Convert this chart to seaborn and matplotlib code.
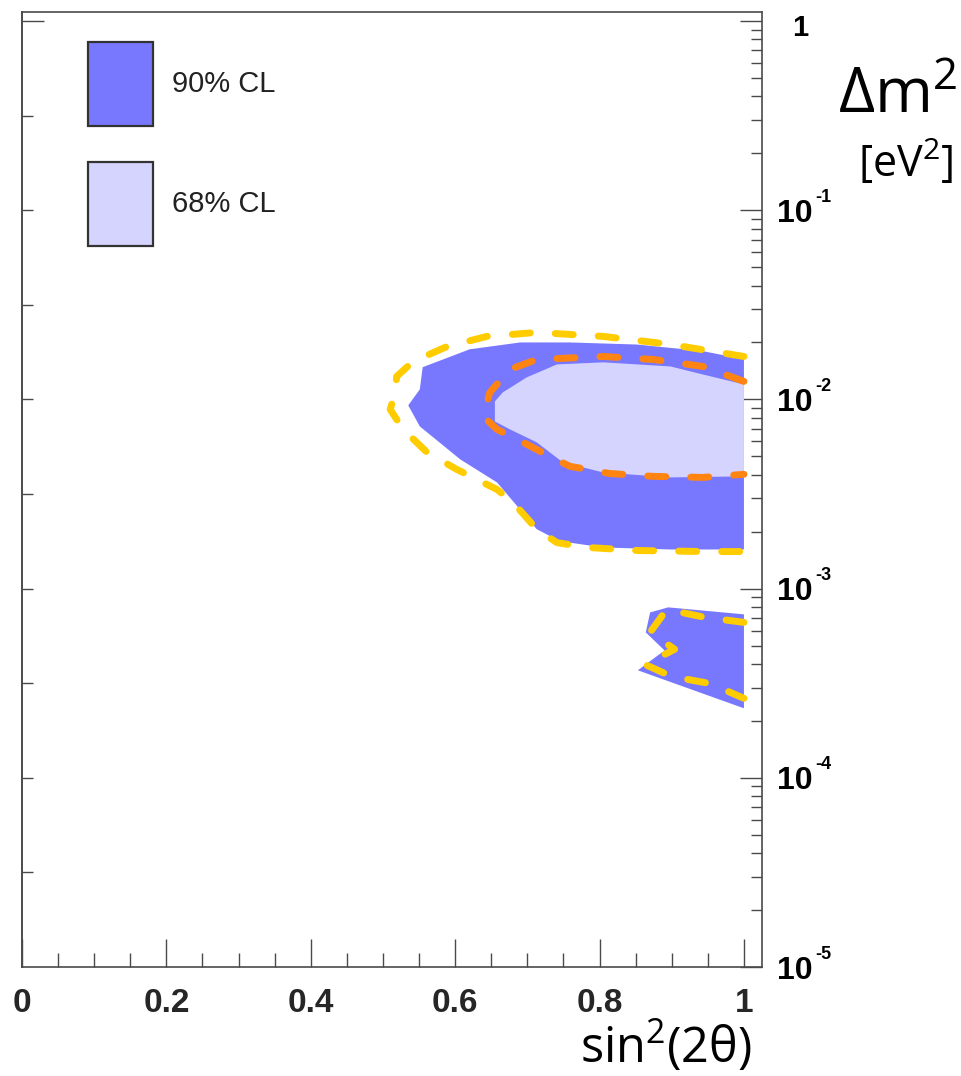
import matplotlib
matplotlib.use("Agg")
import matplotlib.pyplot as plt
import matplotlib.ticker as mticker
from matplotlib.patches import Patch
from matplotlib.transforms import offset_copy
import seaborn as sns

# ---- allowed regions: sin^2(2theta) vs delta m^2 [eV^2] ----
# 90% CL, upper island (filled)
cl90_sin2 = [1.0, 0.943, 0.852, 0.759, 0.690, 0.620, 0.555, 0.551, 0.535,
             0.551, 0.607, 0.658, 0.713, 0.745, 0.805, 0.898, 1.0]
cl90_dm2 = [0.0163, 0.0180, 0.0195, 0.0200, 0.0200, 0.0184, 0.0148, 0.0113, 0.0093,
            0.0072, 0.00482, 0.00364, 0.00206, 0.00178, 0.00165, 0.00161, 0.00161]

# 90% CL, lower island (filled)
cl90_low_sin2 = [0.870, 0.895, 1.0, 1.0, 0.853, 0.890, 0.864]
cl90_low_dm2 = [0.000748, 0.000796, 0.000731, 0.000233, 0.000370, 0.000471, 0.000587]

# 68% CL (filled)
cl68_sin2 = [1.0, 0.943, 0.898, 0.805, 0.741, 0.699, 0.666, 0.655, 0.655,
             0.676, 0.713, 0.749, 0.805, 0.898, 1.0]
cl68_dm2 = [0.0120, 0.01355, 0.01494, 0.01570, 0.01531, 0.01307, 0.01089, 0.00976, 0.00765,
            0.00694, 0.00593, 0.00465, 0.00411, 0.00387, 0.00392]

# 68% CL contour (dashed, orange)
c68_line_sin2 = [1.0, 0.943, 0.874, 0.805, 0.713, 0.676, 0.648, 0.639, 0.658,
                 0.694, 0.731, 0.759, 0.814, 0.874, 0.943, 1.0]
c68_line_dm2 = [0.01245, 0.01494, 0.01626, 0.01686, 0.01626, 0.01442, 0.01089, 0.00813, 0.00694,
                0.00593, 0.00500, 0.00443, 0.00406, 0.00392, 0.00387, 0.00402]

# 90% CL contour (dashed, yellow), upper island
c90_line_sin2 = [1.0, 0.898, 0.805, 0.713, 0.644, 0.589, 0.542, 0.519, 0.517, 0.510,
                 0.528, 0.561, 0.602, 0.658, 0.680, 0.713, 0.741, 0.783, 0.852, 0.943, 1.0]
c90_line_dm2 = [0.01686, 0.01953, 0.02153, 0.02260, 0.02153, 0.01905, 0.01588, 0.01323, 0.01089, 0.00885,
                0.00694, 0.00525, 0.00427, 0.00334, 0.00286, 0.00206, 0.00175, 0.00165, 0.00159, 0.00157, 0.00157]

# 90% CL contour (dashed, yellow), lower island
c90_low_line_sin2 = [1.0, 0.946, 0.893, 0.870, 0.904, 0.863, 0.900, 0.953, 1.0]
c90_low_line_dm2 = [0.000663, 0.000705, 0.000776, 0.000587, 0.000478, 0.000397, 0.000343, 0.000315, 0.000263]

# ---- axes ----
x_major = [0, 0.2, 0.4, 0.6, 0.8, 1.0]
x_labels = ["0", "0.2", "0.4", "0.6", "0.8", "1"]
y_decades = [1e-5, 1e-4, 1e-3, 1e-2, 1e-1, 1.0]
y_exponents = ["-5", "-4", "-3", "-2", "-1", ""]
y_half_decades = [10 ** (k / 2) for k in range(-9, 0)]

legend_labels = ["90% CL", "68% CL"]

col90 = "#7878ff"
col68 = "#d4d4ff"
col_yellow = "#ffcc00"
col_orange = "#ff8412"
axis_col = "#4a4a4a"

sns.set_style("white")
plt.rcParams["font.family"] = ["Liberation Sans", "DejaVu Sans"]
plt.rcParams["mathtext.default"] = "regular"

W, H = 962, 1076
fig = plt.figure(figsize=(W / 100, H / 100), dpi=100)
ax = fig.add_axes([22 / W, (H - 967) / H, 740 / W, 955 / H])

ax.set_yscale("log")

# filled regions
ax.fill(cl90_sin2, cl90_dm2, color=col90, lw=0, zorder=2)
ax.fill(cl90_low_sin2, cl90_low_dm2, color=col90, lw=0, zorder=2)
ax.fill(cl68_sin2, cl68_dm2, color=col68, lw=0, zorder=3)

# dashed contours
dash_kw = dict(sort=False, estimator=None, linewidth=5.0, dash_capstyle="round",
               linestyle=(0, (2.6, 3.6)), zorder=4)
sns.lineplot(x=c68_line_sin2, y=c68_line_dm2, color=col_orange, ax=ax, **dash_kw)
sns.lineplot(x=c90_line_sin2, y=c90_line_dm2, color=col_yellow, ax=ax, **dash_kw)
sns.lineplot(x=c90_low_line_sin2, y=c90_low_line_dm2, color=col_yellow, ax=ax, **dash_kw)

ax.set_xlim(0, 1.025)
ax.set_ylim(1e-5, 1.116)
ax.set_xlabel("")
ax.set_ylabel("")

for sp in ax.spines.values():
    sp.set_color(axis_col)
    sp.set_linewidth(1.2)
    sp.set_visible(True)

# x axis: ticks inside, bold labels
ax.xaxis.set_major_locator(mticker.FixedLocator(x_major))
ax.xaxis.set_minor_locator(mticker.MultipleLocator(0.05))
ax.set_xticklabels(x_labels, fontweight="bold", fontsize=24)
ax.tick_params(axis="x", which="major", direction="in", length=20, width=1.0,
               color=axis_col, top=False, bottom=True, pad=15)
ax.tick_params(axis="x", which="minor", direction="in", length=10, width=1.0,
               color=axis_col, top=False, bottom=True)

# y axis on the right, ticks inside
ax.yaxis.set_major_locator(mticker.FixedLocator(y_decades))
ax.yaxis.set_minor_locator(mticker.LogLocator(base=10, subs=range(2, 10), numticks=20))
ax.yaxis.set_minor_formatter(mticker.NullFormatter())
ax.tick_params(axis="y", which="major", direction="in", length=16, width=1.0,
               color=axis_col, left=False, right=True, labelleft=False, labelright=False)
ax.tick_params(axis="y", which="minor", direction="in", length=8, width=1.0,
               color=axis_col, left=False, right=True)

# left side: ticks every half decade, no labels
sec = ax.secondary_yaxis("left")
sec.yaxis.set_major_locator(mticker.FixedLocator([1.0]))
sec.yaxis.set_minor_locator(mticker.FixedLocator(y_half_decades))
sec.yaxis.set_major_formatter(mticker.NullFormatter())
sec.yaxis.set_minor_formatter(mticker.NullFormatter())
sec.tick_params(which="major", direction="in", length=16, width=1.0, color=axis_col)
sec.tick_params(which="minor", direction="in", length=8, width=1.0, color=axis_col)
sec.spines["left"].set_color(axis_col)
sec.spines["left"].set_linewidth(1.2)

# right-hand decade labels: "10" with raised exponent
ytrans = ax.get_yaxis_transform()
exp_trans = offset_copy(ytrans, fig=fig, y=6, units="points")
for val, ex in zip(y_decades, y_exponents):
    if ex:
        ax.text(1.0203, val, "10", transform=ytrans, ha="left", va="center_baseline",
                fontsize=23, fontweight="bold", color="black", clip_on=False)
        ax.text(1.0716, val, ex, transform=exp_trans, ha="left", va="baseline",
                fontsize=13, fontweight="bold", color="black", clip_on=False)
    else:
        ax.text(1.0514, val, "1", transform=offset_copy(ytrans, fig=fig, y=-3, units="points"),
                ha="center", va="center_baseline", fontsize=21, fontweight="bold",
                color="black", clip_on=False)

# legend
handles = [Patch(facecolor=col90, edgecolor="#333333", linewidth=1.6, label=legend_labels[0]),
           Patch(facecolor=col68, edgecolor="#333333", linewidth=1.6, label=legend_labels[1])]
fs = 21
fpx = fs * 100 / 72
hh = (84 / fpx - 0.245) / 0.65
fig.legend(handles=handles, loc="upper left", bbox_to_anchor=(88 / W, 1 - 42 / H),
           frameon=False, fontsize=fs, handlelength=65 / fpx, handleheight=hh,
           labelspacing=36 / fpx, handletextpad=19 / fpx, borderpad=0, borderaxespad=0,
           labelcolor="#222222")

# axis titles
title_font = ["Open Sans", "DejaVu Sans"]
fig.text(957 / W, 1 - 113 / H, "Δm$^2$", ha="right", va="baseline", fontsize=45,
         family=title_font, color="black")
fig.text(953 / W, 1 - 177 / H, "[eV$^2$]", ha="right", va="baseline", fontsize=31,
         family=title_font, color="black")
fig.text(580 / W, 1 - 1063 / H, "sin$^2$(2θ)", ha="left", va="baseline", fontsize=35,
         family=title_font, color="black")

fig.savefig("out.png", dpi=100)
